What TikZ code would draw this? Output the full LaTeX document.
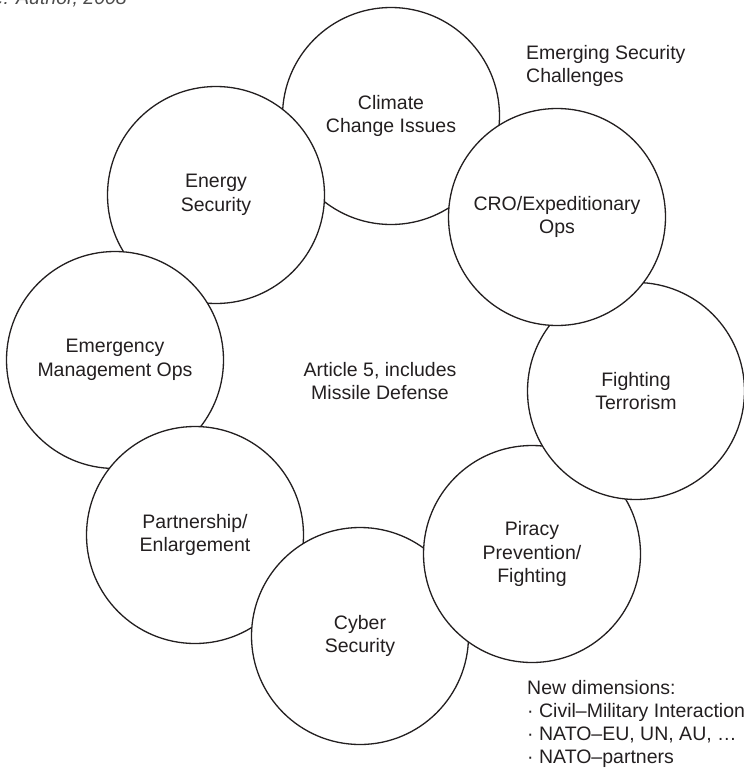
\documentclass[tikz,border=0pt]{standalone}
\usepackage{fontspec}
\setmainfont{Liberation Sans}
\definecolor{inkgray}{HTML}{231F20}
\tikzset{
  bubble/.style={circle, draw=inkgray, line width=1.3pt, fill=white,
    minimum size=217pt, inner sep=0pt, align=center, text=inkgray,
    font=\fontsize{19.5}{23.5}\selectfont},
  note/.style={align=left, inner sep=0pt, text=inkgray,
    font=\fontsize{19.5}{23}\selectfont}
}

\begin{document}
\begin{tikzpicture}[x=1pt,y=-1pt]
  \useasboundingbox (0,0) rectangle (744,771);
  \clip (0,0) rectangle (744,771);
  \node[note, anchor=base east, text=black!70, font=\fontsize{19.5}{23}\selectfont\itshape]
    (source) at (127,4.5) {Source: Author, 2008};
  % ring of circles, lowest first
  \node[bubble] (climate) at (391,116) {Climate\\Change Issues};
  \node[bubble] (energy) at (216,195) {Energy\\Security};
  \node[bubble] (emergency) at (115,360) {Emergency\\Management Ops};
  \node[bubble] (partner) at (195,535) {Partnership/\\Enlargement};
  \node[bubble] (cyber) at (360,636) {Cyber\\Security};
  \node[bubble] (piracy) at (532,554) {Piracy\\Prevention/\\Fighting};
  \node[bubble] (terror) at (636,391) {Fighting\\Terrorism};
  \node[bubble] (cro) at (557,217) {CRO/Expeditionary\\Ops};
  % texts
  \node[note, align=center] (article) at (380,381) {Article 5, includes\\Missile Defense};
  \node[note, anchor=north west] (emerging) at (526,45) {Emerging Security\\Challenges};
  \node[note, anchor=north west] (newdim) at (527,680)
    {New dimensions:\\· Civil–Military Interaction\\· NATO–EU, UN, AU, …\\· NATO–partners};
\end{tikzpicture}
\end{document}
